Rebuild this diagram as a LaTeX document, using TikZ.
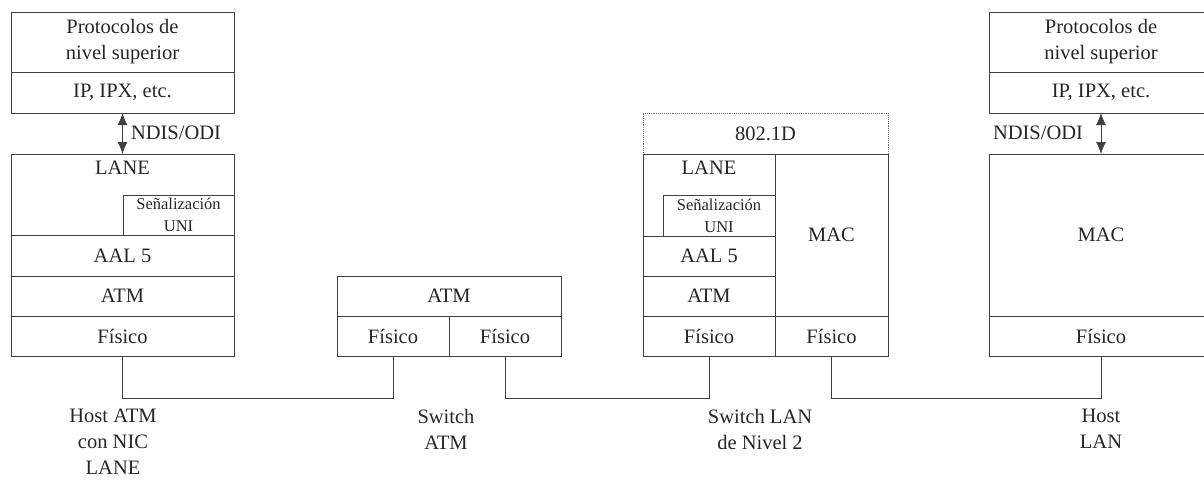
\documentclass[tikz,border=0pt]{standalone}
\usepackage{fontspec}
\setmainfont{Liberation Serif}
\usetikzlibrary{arrows.meta,positioning}

\begin{document}
\begin{tikzpicture}[x=1pt,y=-1pt,
  every node/.style={font=\fontsize{20.5}{26}\selectfont, text=black!85, inner sep=0pt, outer sep=0pt},
  cell/.style={draw=black!75, line width=0.9pt, align=center},
  small/.style={font=\fontsize{16.5}{22}\selectfont},
  wire/.style={draw=black!75, line width=0.9pt},
  tip/.style={{Latex[length=12pt,width=10pt]}-{Latex[length=12pt,width=10pt]}},
  lbl/.style={align=center}]
\clip (0,0) rectangle (1204,480);

% host ATM con NIC LANE
\node[cell, minimum width=223, minimum height=60] (aProto) at (122.5,42) {Protocolos de\\nivel superior};
\node[cell, minimum width=223, minimum height=41] (aIP) at (122.5,92.5) {IP, IPX, etc.};
\node[cell, minimum width=223, minimum height=81] (aLane) at (122.5,194.5) {};
\node (aLaneTxt) at (122.5,168) {LANE};
\node[cell, small, minimum width=111, minimum height=40] (aSenal) at (178.5,215) {Señalización\\UNI};
\node[cell, minimum width=223, minimum height=41] (aAal) at (122.5,255.5) {AAL 5};
\node[cell, minimum width=223, minimum height=40] (aAtm) at (122.5,296) {ATM};
\node[cell, minimum width=223, minimum height=40] (aFis) at (122.5,336) {Físico};
\draw[wire, tip] (aIP.south) -- (aLane.north);
\node[anchor=west] (aNdis) at (131,133) {NDIS/ODI};

% switch ATM
\node[cell, minimum width=224, minimum height=40] (bAtm) at (449,296) {ATM};
\node[cell, minimum width=112, minimum height=40] (bFisL) at (393,336) {Físico};
\node[cell, minimum width=112, minimum height=40] (bFisR) at (505,336) {Físico};

% switch LAN de nivel 2
\node[cell, draw=black!55, densely dotted, minimum width=245, minimum height=41] (c802) at (765.5,133.5) {802.1D};
\node[cell, minimum width=132, minimum height=82] (cLane) at (709,195) {};
\node (cLaneTxt) at (709,168) {LANE};
\node[cell, small, minimum width=112, minimum height=41] (cSenal) at (719,215.5) {Señalización\\UNI};
\node[cell, minimum width=132, minimum height=40] (cAal) at (709,256) {AAL 5};
\node[cell, minimum width=132, minimum height=40] (cAtm) at (709,296) {ATM};
\node[cell, minimum width=132, minimum height=40] (cFisL) at (709,336) {Físico};
\node[cell, minimum width=113, minimum height=162] (cMac) at (831.5,235) {MAC};
\node[cell, minimum width=113, minimum height=40] (cFisR) at (831.5,336) {Físico};

% host LAN
\node[cell, minimum width=224, minimum height=60] (dProto) at (1101,42) {Protocolos de\\nivel superior};
\node[cell, minimum width=224, minimum height=41] (dIP) at (1101,92.5) {IP, IPX, etc.};
\node[cell, minimum width=224, minimum height=162] (dMac) at (1101,235) {MAC};
\node[cell, minimum width=224, minimum height=40] (dFis) at (1101,336) {Físico};
\draw[wire, tip] (dIP.south) -- (dMac.north);
\node[anchor=east] (dNdis) at (1083,133) {NDIS/ODI};

% enlaces
\draw[wire] (aFis.south) -- ++(0,42) -| (bFisL.south);
\draw[wire] (bFisR.south) -- ++(0,42) -| (cFisL.south);
\draw[wire] (cFisR.south) -- ++(0,42) -| (dFis.south);

% rotulos
\node[lbl] (hostAtm) at (113,442) {Host ATM\\con NIC\\LANE};
\node[lbl] (swAtm) at (446,429) {Switch\\ATM};
\node[lbl] (swLan) at (760,429) {Switch LAN\\de Nivel 2};
\node[lbl] (hostLan) at (1101,429) {Host\\LAN};
\end{tikzpicture}
\end{document}
